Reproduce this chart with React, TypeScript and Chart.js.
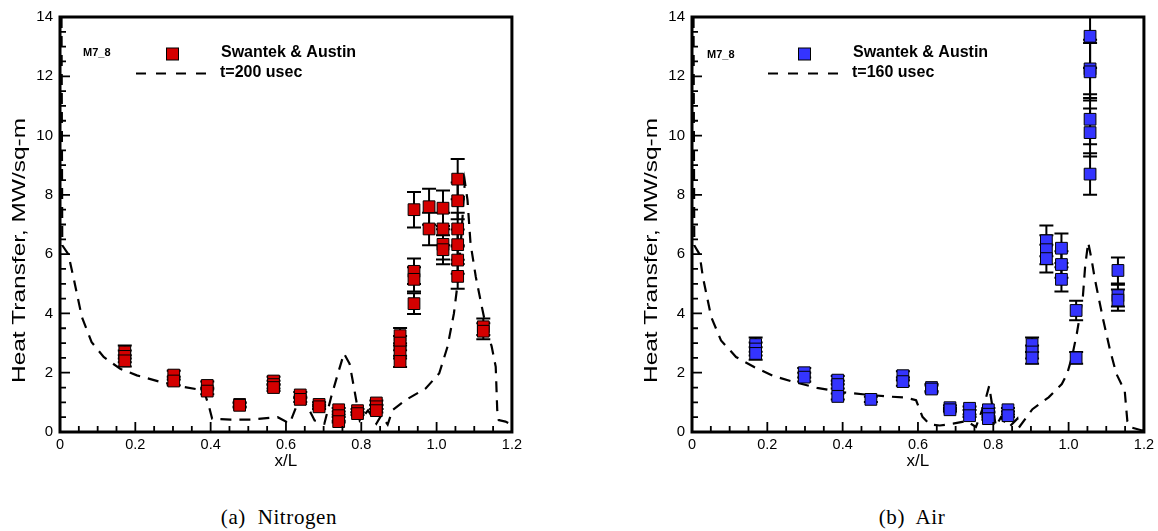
import React, { useEffect, useRef } from 'react';
import { Chart, registerables } from 'chart.js';

Chart.register(...registerables);

// ---------------- data ----------------
const xTicks = [0, 0.2, 0.4, 0.6, 0.8, 1, 1.2];
const yTicks = [0, 2, 4, 6, 8, 10, 12, 14];
// plot frame corners (axis limits)
const frameX = [0, 1.2, 1.2, 0, 0];
const frameY = [0, 0, 14, 14, 0];

// (a) Nitrogen – Swantek & Austin measurements
const n2X = [0.172, 0.172, 0.172, 0.302, 0.302, 0.391, 0.391, 0.477, 0.477, 0.567, 0.567, 0.567, 0.638, 0.638, 0.688, 0.688, 0.74, 0.74, 0.74, 0.79, 0.79, 0.84, 0.84, 0.84, 0.903, 0.903, 0.903, 0.903, 0.94, 0.94, 0.94, 0.94, 0.98, 0.98, 1.017, 1.017, 1.017, 1.017, 1.056, 1.056, 1.056, 1.056, 1.056, 1.056, 1.124, 1.124];
const n2Y = [2.7, 2.55, 2.4, 1.92, 1.72, 1.57, 1.38, 0.93, 0.9, 1.72, 1.6, 1.5, 1.25, 1.1, 0.93, 0.85, 0.75, 0.55, 0.35, 0.72, 0.62, 0.98, 0.85, 0.72, 3.25, 3.0, 2.7, 2.38, 7.5, 5.42, 5.15, 4.33, 7.6, 6.85, 7.55, 6.85, 6.33, 6.15, 8.53, 7.8, 6.85, 6.32, 5.8, 5.25, 3.55, 3.4];
const n2Err = [0.22, 0.2, 0.19, 0.15, 0.14, 0.13, 0.11, 0.07, 0.07, 0.14, 0.13, 0.12, 0.1, 0.09, 0.07, 0.07, 0.06, 0.04, 0.03, 0.06, 0.05, 0.08, 0.07, 0.06, 0.26, 0.24, 0.22, 0.19, 0.6, 0.43, 0.41, 0.35, 0.61, 0.55, 0.6, 0.55, 0.51, 0.49, 0.68, 0.62, 0.55, 0.51, 0.46, 0.42, 0.28, 0.27];
// (a) Nitrogen – computation t=200 usec
const n2ModelX = [0.004, 0.006, 0.022, 0.036, 0.058, 0.084, 0.116, 0.16, 0.204, 0.267, 0.329, 0.382, 0.396, 0.404, 0.453, 0.507, 0.578, 0.6, 0.604, 0.613, 0.627, 0.644, 0.658, 0.676, 0.702, 0.72, 0.738, 0.754, 0.769, 0.782, 0.796, 0.818, 0.84, 0.853, 0.87, 0.883, 0.918, 0.971, 1.007, 1.029, 1.046, 1.058, 1.066, 1.075, 1.082, 1.09, 1.104, 1.12, 1.135, 1.146, 1.157, 1.161, 1.165, 1.183, 1.2];
const n2ModelY = [14, 6.3, 6.0, 5.2, 3.88, 3.03, 2.53, 2.13, 1.91, 1.69, 1.52, 1.4, 0.84, 0.45, 0.42, 0.42, 0.5, 0.35, 0.28, 0.39, 0.84, 1.12, 0.84, 0.39, 0.28, 1.18, 1.97, 2.65, 2.3, 1.4, 0.39, 0.73, 0.28, 0.56, 0.25, 0.74, 1.08, 1.47, 1.98, 2.88, 4.0, 5.24, 6.7, 8.45, 7.83, 6.37, 5.24, 4.23, 3.33, 2.9, 2.2, 0.74, 0.4, 0.35, 0.24];

// (b) Air – Swantek & Austin measurements
const airX = [0.169, 0.169, 0.169, 0.298, 0.298, 0.387, 0.387, 0.387, 0.475, 0.56, 0.56, 0.636, 0.636, 0.685, 0.685, 0.737, 0.737, 0.787, 0.787, 0.787, 0.839, 0.839, 0.903, 0.903, 0.903, 0.941, 0.941, 0.941, 0.981, 0.981, 0.981, 1.02, 1.02, 1.057, 1.057, 1.057, 1.057, 1.057, 1.057, 1.131, 1.131, 1.131];
const airY = [2.95, 2.8, 2.65, 2.0, 1.85, 1.75, 1.6, 1.2, 1.1, 1.9, 1.7, 1.5, 1.45, 0.82, 0.75, 0.8, 0.55, 0.75, 0.6, 0.45, 0.75, 0.55, 2.95, 2.7, 2.5, 6.45, 6.15, 5.85, 6.2, 5.65, 5.15, 4.1, 2.5, 13.35, 12.25, 12.15, 10.55, 10.1, 8.7, 5.45, 4.6, 4.45];
const airErr = [0.24, 0.22, 0.21, 0.16, 0.15, 0.14, 0.13, 0.1, 0.09, 0.15, 0.14, 0.12, 0.12, 0.07, 0.06, 0.06, 0.04, 0.06, 0.05, 0.04, 0.06, 0.04, 0.24, 0.22, 0.2, 0.52, 0.49, 0.47, 0.5, 0.45, 0.41, 0.33, 0.2, 1.07, 0.98, 0.97, 0.84, 0.81, 0.7, 0.44, 0.37, 0.36];
// (b) Air – computation t=160 usec
const airModelX = [0.004, 0.006, 0.02, 0.029, 0.051, 0.077, 0.117, 0.165, 0.218, 0.27, 0.332, 0.393, 0.463, 0.516, 0.568, 0.595, 0.612, 0.632, 0.658, 0.693, 0.728, 0.754, 0.776, 0.789, 0.798, 0.807, 0.82, 0.842, 0.864, 0.868, 0.904, 0.947, 0.982, 0.996, 1.009, 1.022, 1.031, 1.038, 1.044, 1.052, 1.061, 1.07, 1.079, 1.092, 1.11, 1.127, 1.14, 1.149, 1.152, 1.156, 1.167, 1.193, 1.2];
const airModelY = [14, 6.3, 6.0, 5.22, 3.88, 3.09, 2.53, 2.19, 1.88, 1.69, 1.49, 1.35, 1.26, 1.2, 1.16, 1.07, 0.51, 0.25, 0.22, 0.28, 0.37, 0.17, 0.94, 1.55, 0.83, 0.2, 0.49, 0.17, 0.45, 0.15, 0.77, 1.17, 1.62, 1.96, 2.53, 3.33, 4.01, 4.58, 5.6, 6.4, 5.82, 5.14, 4.58, 3.78, 2.76, 1.96, 1.62, 1.4, 0.94, 0.37, 0.15, 0.06, 0.05];

const FONT = '"Liberation Sans", Arial, Helvetica, sans-serif';

type PanelProps = {
  ex: number[]; ey: number[]; eerr: number[];
  mx: number[]; my: number[];
  color: string; modelLabel: string;
  tagX: number; tagY: number;
};

function drawTicks(chart: any) {
  const { ctx, chartArea: a, scales } = chart;
  const xs = scales.x, ys = scales.y;
  ctx.save();
  ctx.setLineDash([]);
  ctx.strokeStyle = '#000';
  ctx.lineCap = 'butt';
  ctx.lineWidth = 1.8;
  ctx.beginPath();
  for (let k = 0; k <= 24; k++) {
    const px = xs.getPixelForValue(k * 0.05);
    const len = k % 4 === 0 ? 10 : 6;
    ctx.moveTo(px, a.bottom);
    ctx.lineTo(px, a.bottom - len);
  }
  for (let k = 0; k <= 28; k++) {
    const py = ys.getPixelForValue(k * 0.5);
    const len = k % 4 === 0 ? 10 : 6;
    ctx.moveTo(a.left, py);
    ctx.lineTo(a.left + len, py);
  }
  ctx.stroke();
  ctx.restore();
}

function Panel({ ex, ey, eerr, mx, my, color, modelLabel, tagX, tagY }: PanelProps) {
  const ref = useRef<HTMLCanvasElement | null>(null);
  useEffect(() => {
    const canvas = ref.current;
    if (!canvas) return;
    const points = ex.map((x, i) => ({ x, y: ey[i] }));
    const model = mx.map((x, i) => ({ x, y: my[i] }));
    const frame = frameX.map((x, i) => ({ x, y: frameY[i] }));

    const errPlugin = {
      id: 'errbars',
      beforeDatasetsDraw(chart: any) {
        const { ctx, chartArea: a, scales } = chart;
        const xs = scales.x, ys = scales.y;
        ctx.save();
        ctx.beginPath();
        ctx.rect(a.left, a.top, a.right - a.left, a.bottom - a.top);
        ctx.clip();
        ctx.setLineDash([]);
        ctx.strokeStyle = '#000';
        ctx.lineWidth = 2;
        for (let i = 0; i < ex.length; i++) {
          const px = xs.getPixelForValue(ex[i]);
          const y1 = ys.getPixelForValue(ey[i] - eerr[i]);
          const y2 = ys.getPixelForValue(ey[i] + eerr[i]);
          ctx.beginPath();
          ctx.moveTo(px, y1); ctx.lineTo(px, y2);
          ctx.moveTo(px - 7, y1); ctx.lineTo(px + 7, y1);
          ctx.moveTo(px - 7, y2); ctx.lineTo(px + 7, y2);
          ctx.stroke();
        }
        ctx.restore();
      },
    };

    const legendPlugin = {
      id: 'customlegend',
      afterDraw(chart: any) {
        const { ctx, chartArea: a } = chart;
        ctx.save();
        ctx.save();
        ctx.fillStyle = '#000';
        ctx.font = `19px ${FONT}`;
        const ttl = 'Heat Transfer, MW/sq-m';
        const w = ctx.measureText(ttl).width;
        ctx.translate(20, 250.5);
        ctx.rotate(-Math.PI / 2);
        ctx.scale(265 / w, 1);
        ctx.textAlign = 'center';
        ctx.textBaseline = 'middle';
        ctx.fillText(ttl, 0, 0);
        ctx.restore();

        ctx.fillStyle = '#000';
        ctx.textAlign = 'left';
        ctx.textBaseline = 'middle';
        ctx.font = `bold 11px ${FONT}`;
        ctx.fillText('M7_8', tagX, tagY);
        ctx.fillStyle = color;
        ctx.fillRect(a.left + 106.5, 48, 12, 12);
        ctx.lineWidth = 1;
        ctx.setLineDash([]);
        ctx.strokeStyle = '#000';
        ctx.strokeRect(a.left + 106.5, 48, 12, 12);
        ctx.fillStyle = '#000';
        ctx.font = `bold 16px ${FONT}`;
        ctx.fillText('Swantek & Austin', a.left + 161, 53);
        ctx.fillText(modelLabel, a.left + 160, 73);
        ctx.lineWidth = 2.2;
        ctx.setLineDash([10, 10]);
        ctx.beginPath();
        ctx.moveTo(a.left + 76, 73.5);
        ctx.lineTo(a.left + 147, 73.5);
        ctx.stroke();
        ctx.restore();
        drawTicks(chart);
      },
    };

    const chart = new Chart(canvas, {
      type: 'scatter',
      data: {
        datasets: [
          {
            data: frame,
            showLine: true,
            borderColor: '#000',
            borderWidth: 3,
            pointRadius: 0,
            pointHoverRadius: 0,
            fill: false,
            tension: 0,
            clip: false,
            borderJoinStyle: 'miter',
            borderCapStyle: 'square',
          },
          {
            data: points,
            pointStyle: 'rect',
            pointRadius: 8.3,
            pointHoverRadius: 8.3,
            backgroundColor: color,
            borderColor: '#000',
            borderWidth: 1,
          },
          {
            data: model,
            showLine: true,
            borderColor: '#000',
            borderWidth: 2.2,
            borderDash: [11, 8],
            pointRadius: 0,
            pointHoverRadius: 0,
            fill: false,
            tension: 0,
          },
        ],
      } as any,
      options: {
        animation: false,
        responsive: false,
        maintainAspectRatio: false,
        devicePixelRatio: 1,
        events: [],
        layout: { padding: { top: 17, right: 12, left: 0, bottom: 0 } },
        plugins: { legend: { display: false }, tooltip: { enabled: false } },
        scales: {
          x: {
            type: 'linear', min: 0, max: 1.2,
            grid: { display: false, drawTicks: false },
            border: { display: false },
            ticks: { color: '#000', font: { family: FONT, size: 14.5 }, padding: 4, maxRotation: 0, autoSkip: false },
            afterBuildTicks: (s: any) => { s.ticks = xTicks.map((v) => ({ value: v })); },
            afterFit: (s: any) => { s.height = 48; },
            title: { display: true, text: 'x/L', color: '#000', font: { family: FONT, size: 17 }, padding: { top: 0, bottom: 8 } },
          },
          y: {
            type: 'linear', min: 0, max: 14,
            grid: { display: false, drawTicks: false },
            border: { display: false },
            ticks: { color: '#000', font: { family: FONT, size: 15 }, padding: 7, autoSkip: false },
            afterBuildTicks: (s: any) => { s.ticks = yTicks.map((v) => ({ value: v })); },
            afterFit: (s: any) => { s.width = 60; },
          },
        },
      } as any,
      plugins: [errPlugin, legendPlugin],
    });
    return () => chart.destroy();
  }, []);
  return <canvas ref={ref} width={526} height={480} style={{ width: 526, height: 480, display: 'block' }} />;
}

const captionStyle: React.CSSProperties = {
  position: 'absolute',
  top: 505,
  width: 240,
  textAlign: 'center',
  fontFamily: '"Liberation Serif", "Times New Roman", serif',
  fontSize: 21,
  lineHeight: '24px',
  letterSpacing: '0.6px',
  color: '#000',
  whiteSpace: 'pre',
};

export default function App() {
  return (
    <div style={{ position: 'absolute', left: 0, top: 0, width: 1158, height: 531, overflow: 'hidden', background: '#fff' }}>
      <div style={{ position: 'absolute', left: 0, top: 0 }}>
        <Panel ex={n2X} ey={n2Y} eerr={n2Err} mx={n2ModelX} my={n2ModelY} color="#d40000" modelLabel="t=200 usec" tagX={83} tagY={53} />
      </div>
      <div style={{ position: 'absolute', left: 632, top: 0 }}>
        <Panel ex={airX} ey={airY} eerr={airErr} mx={airModelX} my={airModelY} color="#3434ff" modelLabel="t=160 usec" tagX={75} tagY={55} />
      </div>
      <div style={{ ...captionStyle, left: 159 }}>{'(a)  Nitrogen'}</div>
      <div style={{ ...captionStyle, left: 792 }}>{'(b)  Air'}</div>
    </div>
  );
}
